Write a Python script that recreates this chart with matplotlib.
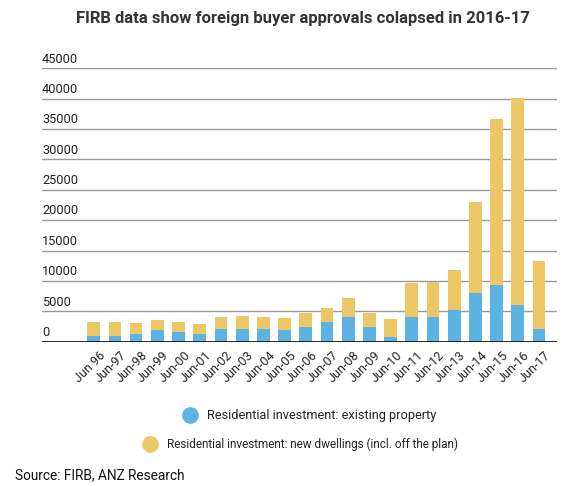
import numpy as np
import matplotlib
matplotlib.use('Agg')
import matplotlib.pyplot as plt
from matplotlib.lines import Line2D
import matplotlib.transforms as mtrans

plt.rcParams['font.family'] = ['Roboto', 'DejaVu Sans']

labels = ['Jun 96', 'Jun-97', 'Jun-98', 'Jun-99', 'Jun-00', 'Jun-01', 'Jun-02', 'Jun-03',
          'Jun-04', 'Jun-05', 'Jun-06', 'Jun-07', 'Jun-08', 'Jun-09', 'Jun-10', 'Jun-11',
          'Jun-12', 'Jun-13', 'Jun-14', 'Jun-15', 'Jun-16', 'Jun-17']
# existing property (bottom) and totals
existing = [900, 1000, 1300, 2000, 1650, 1300, 2130, 2130, 2080, 1970, 2500, 3170,
            4100, 2500, 770, 4100, 4100, 5250, 7980, 9340, 6010, 2130]
total = [3300, 3300, 3100, 3600, 3300, 2850, 4100, 4200, 4100, 3900, 4750, 5570,
         7200, 4750, 3770, 9600, 9780, 11750, 23060, 36670, 40050, 13280]
new_dwell = [t - e for t, e in zip(total, existing)]
yticks = [0, 5000, 10000, 15000, 20000, 25000, 30000, 35000, 40000, 45000]

blue = '#5BB3E4'
yellow = '#EDC765'

fig = plt.figure(figsize=(5.78, 4.86), dpi=100)
ax = fig.add_axes([42/578, 1-341.7/486, 515/578, (341.7-68.3)/486])

x = np.arange(len(labels))
ax.bar(x, existing, width=0.6, color=blue, zorder=2)
ax.bar(x, new_dwell, bottom=existing, width=0.6, color=yellow, zorder=2)

ax.set_xlim(-2.44, 21.85)
ax.set_ylim(0, 45000)
for s in ax.spines.values():
    s.set_visible(False)
ax.set_yticks([])
for v in yticks:
    if v == 0:
        ax.axhline(0, color='#111111', lw=2, zorder=3)
    else:
        ax.axhline(v, color='#999999', lw=1, zorder=1)
    off = mtrans.offset_copy(ax.get_yaxis_transform(), fig=fig, x=0, y=2, units='points')
    ax.text(0, v, str(v), transform=off, ha='left', va='bottom', fontsize=9.2, color='#222222')

ax.set_xticks(x)
ax.set_xticklabels(labels, rotation=45, ha='right', rotation_mode='anchor', fontsize=9, color='#222222')
ax.tick_params(axis='x', length=0, pad=5)
for lab in ax.get_xticklabels():
    lab.set_transform(lab.get_transform() + mtrans.ScaledTranslation(5/100, 0, fig.dpi_scale_trans))

fig.text(303/578, 1-18/486, 'FIRB data show foreign buyer approvals colapsed in 2016-17',
         ha='center', va='center', fontsize=12, fontweight='bold', color='#333333')

# legend rows
fig.add_artist(Line2D([190/578], [1-415/486], marker='o', markersize=11, color=blue, lw=0))
fig.text(207/578, 1-415/486, 'Residential investment: existing property', ha='left', va='center',
         fontsize=9.2, color='#222222')
fig.add_artist(Line2D([150/578], [1-444/486], marker='o', markersize=11, color=yellow, lw=0))
fig.text(167/578, 1-444/486, 'Residential investment: new dwellings (incl. off the plan)', ha='left',
         va='center', fontsize=8.5, color='#222222')

fig.text(15/578, 1-475/486, 'Source: FIRB, ANZ Research', ha='left', va='center', fontsize=9.8,
         color='#111111')

fig.savefig('out.png', dpi=100)
